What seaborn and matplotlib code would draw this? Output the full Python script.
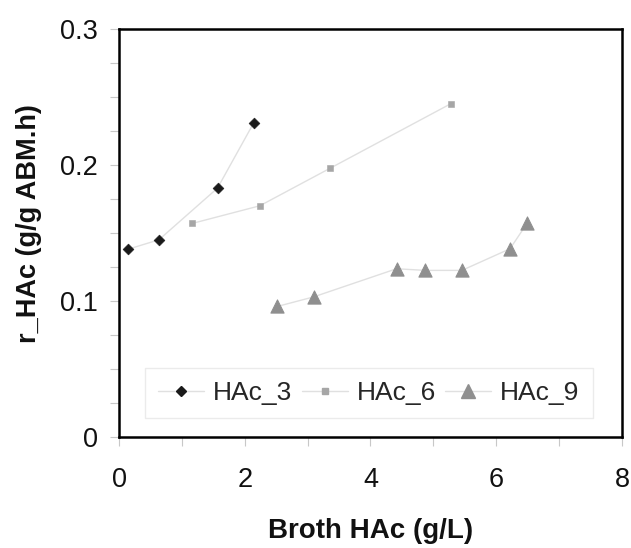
import matplotlib
matplotlib.use("Agg")
import matplotlib.pyplot as plt
import seaborn as sns
import pandas as pd
from matplotlib.ticker import MultipleLocator

sns.set_theme(style="white")
plt.rcParams['font.family'] = ['Liberation Sans', 'DejaVu Sans']

x3 = [0.14, 0.635, 1.567, 2.143]
y3 = [0.138, 0.145, 0.183, 0.231]
x6 = [1.163, 2.24, 3.354, 5.276]
y6 = [0.157, 0.170, 0.1975, 0.245]
x9 = [2.52, 3.096, 4.415, 4.87, 5.455, 6.22, 6.49]
y9 = [0.096, 0.103, 0.1237, 0.1225, 0.1225, 0.1384, 0.157]
series = ["HAc_3", "HAc_6", "HAc_9"]

df = pd.concat([
    pd.DataFrame({"x": x3, "y": y3, "s": series[0]}),
    pd.DataFrame({"x": x6, "y": y6, "s": series[1]}),
    pd.DataFrame({"x": x9, "y": y9, "s": series[2]}),
], ignore_index=True)

fig = plt.figure(figsize=(6.31, 5.48), dpi=100)
ax = fig.add_axes([0.1886, 0.2026, 0.797, 0.7445])

styles = {
    "HAc_3": dict(marker="D", color="#1a1a1a", ms=5.5),
    "HAc_6": dict(marker="s", color="#a6a6a6", ms=5),
    "HAc_9": dict(marker="^", color="#8f8f8f", ms=9.5),
}
for s in series:
    d = df[df.s == s]
    st = styles[s]
    sns.lineplot(data=d, x="x", y="y", ax=ax, color="#e0e0e0", lw=1,
                 legend=False, sort=False, zorder=1)
    ax.plot([], [], color="#e0e0e0", lw=1, marker=st["marker"], ms=st["ms"],
            mfc=st["color"], mec=st["color"], label=s)
    sns.scatterplot(data=d, x="x", y="y", ax=ax, marker=st["marker"], color=st["color"],
                    s=st["ms"] ** 2, edgecolor=st["color"], legend=False, zorder=3)

ax.set_xlim(0, 8)
ax.set_ylim(0, 0.3)
ax.set_xticks([0, 2, 4, 6, 8])
ax.set_xticklabels(["0", "2", "4", "6", "8"])
ax.set_yticks([0, 0.1, 0.2, 0.3])
ax.set_yticklabels(["0", "0.1", "0.2", "0.3"])
ax.xaxis.set_minor_locator(MultipleLocator(1))
ax.yaxis.set_minor_locator(MultipleLocator(0.025))
ax.tick_params(axis="both", which="both", direction="out", length=6.5, width=0.8,
               color="#c8c8c8", labelsize=19.5, bottom=True, left=True, labelcolor="#111111")
ax.tick_params(axis="x", pad=15)
ax.tick_params(axis="y", pad=8.5)
for sp in ax.spines.values():
    sp.set_color("black")
    sp.set_linewidth(1.8)

ax.set_xlabel("Broth HAc (g/L)", fontsize=20, fontweight="bold", color="#111111")
ax.set_ylabel("r_HAc (g/g ABM.h)", fontsize=19.5, fontweight="bold", color="#111111")
ax.xaxis.set_label_coords(0.501, -0.198)
ax.yaxis.set_label_coords(-0.153, 0.524)

leg = ax.legend(loc="lower left", bbox_to_anchor=(0.0517, 0.0466, 0.89, 0.137), mode="expand",
                ncol=3, fontsize=19, frameon=True, fancybox=False, handlelength=1.75,
                handletextpad=0.34, columnspacing=0.6, borderpad=0.5, borderaxespad=0)
leg.get_frame().set_edgecolor("#e6e6e6")
leg.get_frame().set_linewidth(1)

fig.savefig("out.png", dpi=100)
